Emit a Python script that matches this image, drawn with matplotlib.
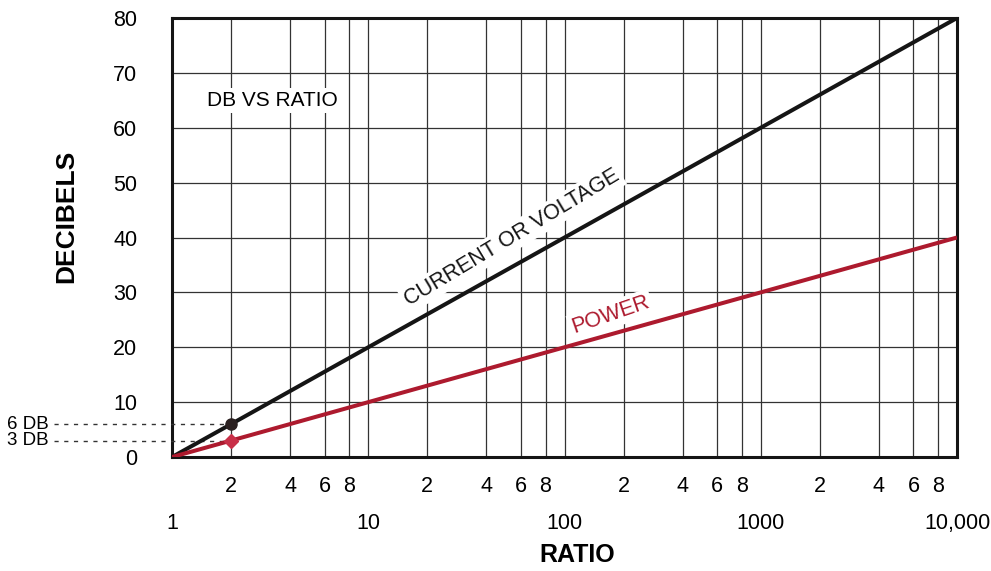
import matplotlib.pyplot as plt
from matplotlib.ticker import FixedLocator

plt.rcParams['font.family'] = ['Liberation Sans', 'DejaVu Sans']

# data
ratio = [1, 2, 10, 100, 1000, 10000]
voltage_db = [0, 6, 20, 40, 60, 80]
power_db = [0, 3, 10, 20, 30, 40]

marker_ratio = 2
marker_voltage = 6
marker_power = 3

decade_ticks = [1, 10, 100, 1000, 10000]
decade_labels = ["1", "10", "100", "1000", "10,000"]
minor_ticks = [m * d for d in [1, 10, 100, 1000] for m in [2, 4, 6, 8]]
minor_labels = ["2", "4", "6", "8"] * 4
y_ticks = list(range(0, 90, 10))

black = "#151515"
red = "#ad1a2e"

fig = plt.figure(figsize=(9.91, 5.71), dpi=100)
ax = fig.add_axes([0.1736, 0.1996, 0.7921, 0.7689])

ax.set_xscale("log")
ax.set_xlim(1, 10000)
ax.set_ylim(0, 80)

# grid
for x in minor_ticks + decade_ticks[1:-1]:
    ax.axvline(x, color="#333333", lw=0.9, zorder=1)
for y in y_ticks[1:-1]:
    ax.axhline(y, color="#333333", lw=0.9, zorder=1)

ax.plot(ratio, voltage_db, color=black, lw=2.9, zorder=4, solid_capstyle="butt")
ax.plot(ratio, power_db, color=red, lw=2.9, zorder=4, solid_capstyle="butt")
ax.plot([marker_ratio], [marker_voltage], "o", color="#2a2020", ms=8, zorder=5)
ax.plot([marker_ratio], [marker_power], "D", color="#c83048", ms=7, zorder=5)

# dashed reference lines to the left margin
for yv, lab in [(marker_voltage, "6 DB"), (marker_power, "3 DB")]:
    ax.plot([0.25, marker_ratio], [yv, yv], color="#333333", lw=1.0,
            ls=(0, (3, 4)), clip_on=False, zorder=3)
    ax.text(0.235, yv, lab, ha="right", va="center", fontsize=13.5,
            clip_on=False)

# axes styling
for s in ax.spines.values():
    s.set_linewidth(2.2)
    s.set_color(black)

ax.set_yticks(y_ticks)
ax.tick_params(axis="y", length=0, pad=25, labelsize=15.5)

ax.xaxis.set_major_locator(FixedLocator(decade_ticks))
ax.set_xticklabels(decade_labels)
ax.xaxis.set_minor_locator(FixedLocator(minor_ticks))
ax.set_xticklabels(minor_labels, minor=True)
ax.tick_params(axis="x", which="major", length=0, pad=40, labelsize=15.5)
ax.tick_params(axis="x", which="minor", length=0, pad=14, labelsize=15.5)

ax.set_ylabel("DECIBELS", fontsize=19, fontweight="bold")
ax.yaxis.set_label_coords(-0.12, 0.549)
ax.set_xlabel("RATIO", fontsize=18, fontweight="bold")
ax.xaxis.set_label_coords(0.516, -0.196)

box = dict(facecolor="white", edgecolor="none", pad=2)
ax.text(1.5, 65, "DB VS RATIO", fontsize=15, ha="left", va="center",
        bbox=box, zorder=3)
ax.text(54, 40, "CURRENT OR VOLTAGE", fontsize=15.5, rotation=31,
        ha="center", va="center", color=black, bbox=box, zorder=3)
ax.text(172, 25.9, "POWER", fontsize=15.5, rotation=19,
        ha="center", va="center", color=red, bbox=box, zorder=3)

fig.savefig("out.png", dpi=100, facecolor="white")
